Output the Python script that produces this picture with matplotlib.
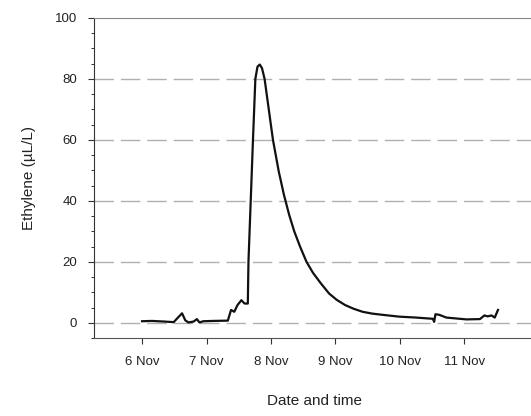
import matplotlib

matplotlib.use("Agg")

import matplotlib.pyplot as plt  # noqa: E402
from matplotlib.ticker import MultipleLocator  # noqa: E402

plt.rcParams["font.family"] = ["Liberation Sans", "DejaVu Sans"]

# days since 6 Nov 00:00, ethylene in uL/L
days = [0.0, 0.15, 0.34, 0.49, 0.57, 0.62, 0.67, 0.72, 0.80, 0.85, 0.89,
        0.95, 1.10, 1.33, 1.38, 1.43, 1.48, 1.54, 1.59, 1.64, 1.65, 1.685,
        1.72, 1.757, 1.79, 1.825, 1.86, 1.90, 1.965, 2.03, 2.12, 2.20, 2.28,
        2.36, 2.45, 2.55, 2.65, 2.77, 2.90, 3.02, 3.15, 3.28,
        3.42, 3.57, 3.73, 3.99, 4.25, 4.51, 4.53, 4.55, 4.61, 4.72,
        5.03, 5.24, 5.31, 5.36, 5.42, 5.47, 5.52]
ethylene = [0.5, 0.6, 0.4, 0.2, 2.0, 3.1, 0.8, 0.1, 0.4, 1.2, 0.1,
            0.5, 0.6, 0.7, 4.2, 3.6, 5.8, 7.4, 6.3, 6.3, 20.0, 40.0,
            60.0, 80.0, 84.0, 84.7, 83.5, 80.0, 70.0, 60.0, 49.6, 42.0, 35.5,
            30.0, 25.0, 20.0, 16.4, 13.0, 9.6, 7.5, 5.8, 4.6,
            3.6, 3.0, 2.6, 2.0, 1.7, 1.3, 0.3, 2.8, 2.6, 1.7,
            1.1, 1.2, 2.4, 2.1, 2.4, 1.7, 4.2]

tick_days = [0, 1, 2, 3, 4, 5]
tick_labels = ["6 Nov", "7 Nov", "8 Nov", "9 Nov", "10 Nov", "11 Nov"]
grid_levels = [0, 20, 40, 60, 80]

fig = plt.figure(figsize=(5.31, 4.16), dpi=100)
ax = fig.add_axes([0.177, 0.1875, 0.83, 0.7695])

for g in grid_levels:
    ax.axhline(g, color="#b0b0b0", lw=1.0, dashes=(14, 5), zorder=1)

ax.plot(days, ethylene, color="#111111", lw=1.6, zorder=3)

ax.set_xlim(-0.746, 6.09)
ax.set_ylim(-5, 100)
ax.set_xticks(tick_days)
ax.set_xticklabels(tick_labels)
ax.set_yticks([0, 20, 40, 60, 80, 100])
ax.yaxis.set_minor_locator(MultipleLocator(5))

ax.spines["right"].set_visible(False)
ax.spines["top"].set_color("#888888")
ax.spines["left"].set_color("#333333")
ax.spines["bottom"].set_color("#555555")

ax.tick_params(axis="both", which="major", direction="out", length=4,
               width=0.8, colors="#333333", labelsize=9.5, labelcolor="#222222")
ax.tick_params(axis="y", which="minor", direction="out", length=2.5, width=0.7,
               colors="#333333")
ax.tick_params(axis="x", pad=9)
ax.tick_params(axis="y", pad=8)

ax.set_xlabel("Date and time", fontsize=11, color="#222222", labelpad=19)
ax.set_ylabel("Ethylene (\u00b5L/L)", fontsize=11, color="#222222", labelpad=14)

fig.savefig("out.png", dpi=100)
plt.close(fig)
